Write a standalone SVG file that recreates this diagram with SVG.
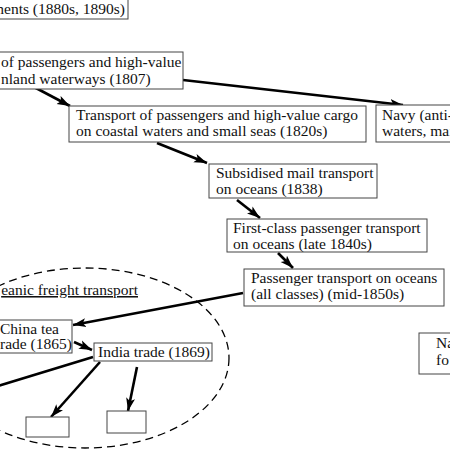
<svg xmlns="http://www.w3.org/2000/svg" width="450" height="450" viewBox="0 0 450 450" font-family="'Liberation Serif', 'Times New Roman', 'DejaVu Serif', serif">
<defs>
<style>
.box{fill:#fff;stroke:#444;stroke-width:1}
text{font-family:'Liberation Serif','Times New Roman','DejaVu Serif',serif;font-size:15.5px;fill:#111}
.c{stroke:#000;stroke-width:2.6;fill:none}
</style>
<marker id="ah" markerUnits="userSpaceOnUse" markerWidth="14" markerHeight="10" refX="13" refY="5" orient="auto">
<path d="M0,0.5 L13,5 L0,9.5 L3,5 Z" fill="#000"/>
</marker>
</defs>
<rect width="450" height="450" fill="#fff"/>
<g id="freight-area">
<ellipse cx="85" cy="358" rx="144" ry="90" fill="none" stroke="#000" stroke-width="1.3" stroke-dasharray="8,5"/>
<text x="138" y="295" text-anchor="end" text-decoration="underline">eanic freight transport</text>
</g>
<g id="connectors">
<line class="c" x1="183" y1="80" x2="403" y2="105" marker-end="url(#ah)"/>
<line class="c" x1="34" y1="87" x2="70" y2="106" marker-end="url(#ah)"/>
<line class="c" x1="157" y1="143" x2="207" y2="163" marker-end="url(#ah)"/>
<line class="c" x1="237" y1="200" x2="260" y2="218" marker-end="url(#ah)"/>
<line class="c" x1="278" y1="253" x2="293" y2="268" marker-end="url(#ah)"/>
<line class="c" x1="243" y1="293" x2="73" y2="325" marker-end="url(#ah)"/>
<line class="c" x1="74" y1="342" x2="92" y2="350" marker-end="url(#ah)"/>
<line class="c" x1="93" y1="357" x2="-5" y2="387"/>
<line class="c" x1="100" y1="362" x2="51" y2="417" marker-end="url(#ah)"/>
<line class="c" x1="137" y1="367" x2="128" y2="411" marker-end="url(#ah)"/>
</g>
<g id="n-1880s">
<rect class="box" x="-5" y="-5" width="133" height="24"/>
<text x="125" y="14" text-anchor="end">ments (1880s, 1890s)</text>
</g>
<g id="n-inland">
<rect class="box" x="-5" y="52" width="188" height="37"/>
<text x="1" y="67">of passengers and high-value</text>
<text x="1" y="84">nland waterways (1807)</text>
</g>
<g id="n-coastal">
<rect class="box" x="69" y="106" width="297" height="36"/>
<text x="76" y="120">Transport of passengers and high-value cargo</text>
<text x="76" y="136">on coastal waters and small seas (1820s)</text>
</g>
<g id="n-navy">
<rect class="box" x="376" y="105" width="80" height="37"/>
<text x="382" y="120">Navy (anti-</text>
<text x="382" y="136">waters, mai</text>
</g>
<g id="n-mail">
<rect class="box" x="209" y="164" width="168" height="34"/>
<text x="216" y="178">Subsidised mail transport</text>
<text x="216" y="194">on oceans (1838)</text>
</g>
<g id="n-firstclass">
<rect class="box" x="227" y="219" width="200" height="33"/>
<text x="233" y="233">First-class passenger transport</text>
<text x="233" y="249">on oceans (late 1840s)</text>
</g>
<g id="n-allclasses">
<rect class="box" x="244" y="269" width="200" height="37"/>
<text x="251" y="283">Passenger transport on oceans</text>
<text x="251" y="299">(all classes) (mid-1850s)</text>
</g>
<g id="n-china">
<rect class="box" x="-5" y="320" width="77" height="33"/>
<text x="0" y="334">China tea</text>
<text x="0" y="349">rade (1865)</text>
</g>
<g id="n-india">
<rect class="box" x="94" y="343" width="118" height="18"/>
<text x="98" y="357">India trade (1869)</text>
</g>
<g id="n-blank1">
<rect class="box" x="26" y="417" width="43" height="20"/>
</g>
<g id="n-blank2">
<rect class="box" x="107" y="411" width="39" height="22"/>
</g>
<g id="n-naval">
<rect class="box" x="419" y="333" width="40" height="41"/>
<text x="436" y="348">Na</text>
<text x="436" y="365">fo</text>
</g>
</svg>
